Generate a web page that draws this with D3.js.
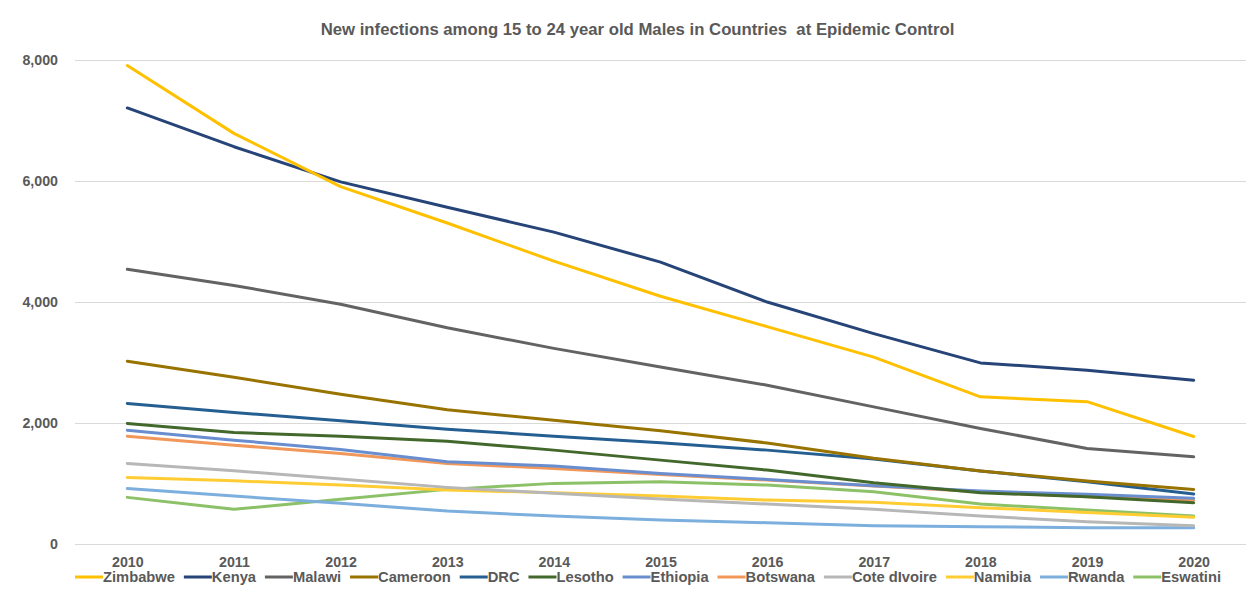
<!DOCTYPE html>
<html>
<head>
<meta charset="utf-8">
<script src="https://cdn.jsdelivr.net/npm/d3@7"></script>
<style>
  html, body { margin: 0; padding: 0; background: #fff; }
  svg { display: block; }
  text { font-family: "Liberation Sans", Arial, sans-serif; font-weight: bold; }
</style>
</head>
<body>
<svg id="chart" width="1248" height="593"></svg>
<script>
// Years on the category axis
const years = ["2010","2011","2012","2013","2014","2015","2016","2017","2018","2019","2020"];

// Country names, in legend order
const countries = ["Zimbabwe","Kenya","Malawi","Cameroon","DRC","Lesotho","Ethiopia","Botswana","Cote dIvoire","Namibia","Rwanda","Eswatini"];

// New infections per year (2010–2020)
const zimbabwe   = [7900, 6780, 5900, 5300, 4670, 4090, 3590, 3085, 2430, 2350, 1775];
const kenya      = [7200, 6560, 5980, 5560, 5150, 4655, 3995, 3474, 2990, 2869, 2704];
const malawi     = [4535, 4270, 3960, 3570, 3230, 2924, 2622, 2264, 1908, 1578, 1440];
const cameroon   = [3018, 2754, 2474, 2215, 2045, 1870, 1668, 1415, 1206, 1040, 900];
const drc        = [2320, 2172, 2034, 1896, 1781, 1672, 1550, 1402, 1204, 1028, 825];
const lesotho    = [1990, 1842, 1781, 1698, 1550, 1385, 1220, 1011, 846, 780, 681];
const ethiopia   = [1880, 1715, 1561, 1357, 1286, 1166, 1067, 961, 874, 820, 754];
const botswana   = [1781, 1632, 1495, 1330, 1248, 1149, 1055, 956, 862, 780, 725];
const coteDivoire= [1330, 1209, 1072, 935, 836, 742, 660, 572, 462, 368, 302];
const namibia    = [1100, 1044, 973, 890, 846, 792, 725, 688, 599, 522, 440];
const rwanda     = [918, 792, 671, 544, 462, 396, 351, 302, 285, 269, 269];
const eswatini   = [770, 572, 737, 902, 1001, 1027, 973, 862, 660, 561, 462];

// Y axis ticks
const yTicks = [0, 2000, 4000, 6000, 8000];

const seriesValues = [zimbabwe, kenya, malawi, cameroon, drc, lesotho, ethiopia, botswana, coteDivoire, namibia, rwanda, eswatini];
const colors = ["#FFC000","#264478","#636363","#997300","#255E91","#43682B","#698ED0","#F1975A","#B7B7B7","#FFCD33","#7CAFDD","#8CC168"];

const series = countries.map((name, i) => ({
  name, color: colors[i],
  values: years.map((y, j) => ({ year: y, value: seriesValues[i][j] }))
}));

const svg = d3.select("#chart");
const textColor = "#595959";

const x = d3.scalePoint().domain(years).range([74, 1247]).padding(0.5);
const y = d3.scaleLinear().domain([0, 8000]).range([544, 59.5]);

// Font size at which a string spans the given width
function sizeFor(str, target, base) {
  const t = svg.append("text").style("font-size", base + "px").text(str);
  const w = t.node().getComputedTextLength();
  t.remove();
  return base * target / w;
}

const titleText = "New infections among 15 to 24 year old Males in Countries\u00a0 at Epidemic Control";
const titleSize  = sizeFor(titleText, 634, 16);
const yLabelSize = sizeFor("8,000", 35.6, 14);
const xLabelSize = sizeFor("2010", 31.7, 14);
const legendSize = sizeFor("Zimbabwe", 72, 14);

// Title
svg.append("text")
  .attr("x", 637.5).attr("y", 35)
  .attr("text-anchor", "middle")
  .attr("fill", textColor)
  .style("font-size", titleSize + "px")
  .text(titleText);

// Gridlines
svg.append("g")
  .selectAll("line")
  .data(yTicks)
  .join("line")
  .attr("x1", 75).attr("x2", 1246)
  .attr("y1", d => Math.round(y(d)) + 0.5).attr("y2", d => Math.round(y(d)) + 0.5)
  .attr("stroke", "#D9D9D9").attr("stroke-width", 1);

// Y axis labels (no axis line)
const yAxis = d3.axisLeft(y).tickValues(yTicks).tickFormat(d3.format(",")).tickSize(0).tickPadding(0);
const gy = svg.append("g").attr("transform", "translate(58,0)").call(yAxis);
gy.select(".domain").remove();
gy.attr("font-family", null).attr("font-size", null);
gy.selectAll("text")
  .attr("fill", textColor)
  .style("font-size", yLabelSize + "px");

// X axis labels
const xAxis = d3.axisBottom(x).tickSize(0).tickPadding(0);
const gx = svg.append("g").attr("transform", "translate(0,557)").call(xAxis);
gx.select(".domain").remove();
gx.attr("font-family", null).attr("font-size", null);
gx.selectAll("text")
  .attr("fill", textColor)
  .attr("dy", "0.71em")
  .style("font-size", xLabelSize + "px");

// Lines, drawn last series first so the first series sits on top
const line = d3.line().x(d => x(d.year)).y(d => y(d.value));
svg.append("g")
  .selectAll("path")
  .data(series.slice().reverse())
  .join("path")
  .attr("d", d => line(d.values))
  .attr("fill", "none")
  .attr("stroke", d => d.color)
  .attr("stroke-width", 3)
  .attr("stroke-linejoin", "round")
  .attr("stroke-linecap", "round");

// Legend: one row spanning x = 75 .. 1221
const legendLeft = 75, legendRight = 1221, swatch = 28;
const legend = svg.append("g");
const items = legend.selectAll("g").data(series).join("g");
items.append("line")
  .attr("x1", 0).attr("x2", swatch)
  .attr("y1", 0).attr("y2", 0)
  .attr("stroke", d => d.color).attr("stroke-width", 3);
const labels = items.append("text")
  .attr("x", swatch).attr("y", 0).attr("dy", "0.35em")
  .attr("fill", textColor)
  .style("font-size", legendSize + "px")
  .text(d => d.name);
const widths = labels.nodes().map(n => n.getComputedTextLength());
const gap = (legendRight - legendLeft - d3.sum(widths) - series.length * swatch) / (series.length - 1);
let cursor = legendLeft;
items.attr("transform", (d, i) => {
  const tx = cursor;
  cursor += swatch + widths[i] + gap;
  return `translate(${tx},577)`;
});
</script>
</body>
</html>
